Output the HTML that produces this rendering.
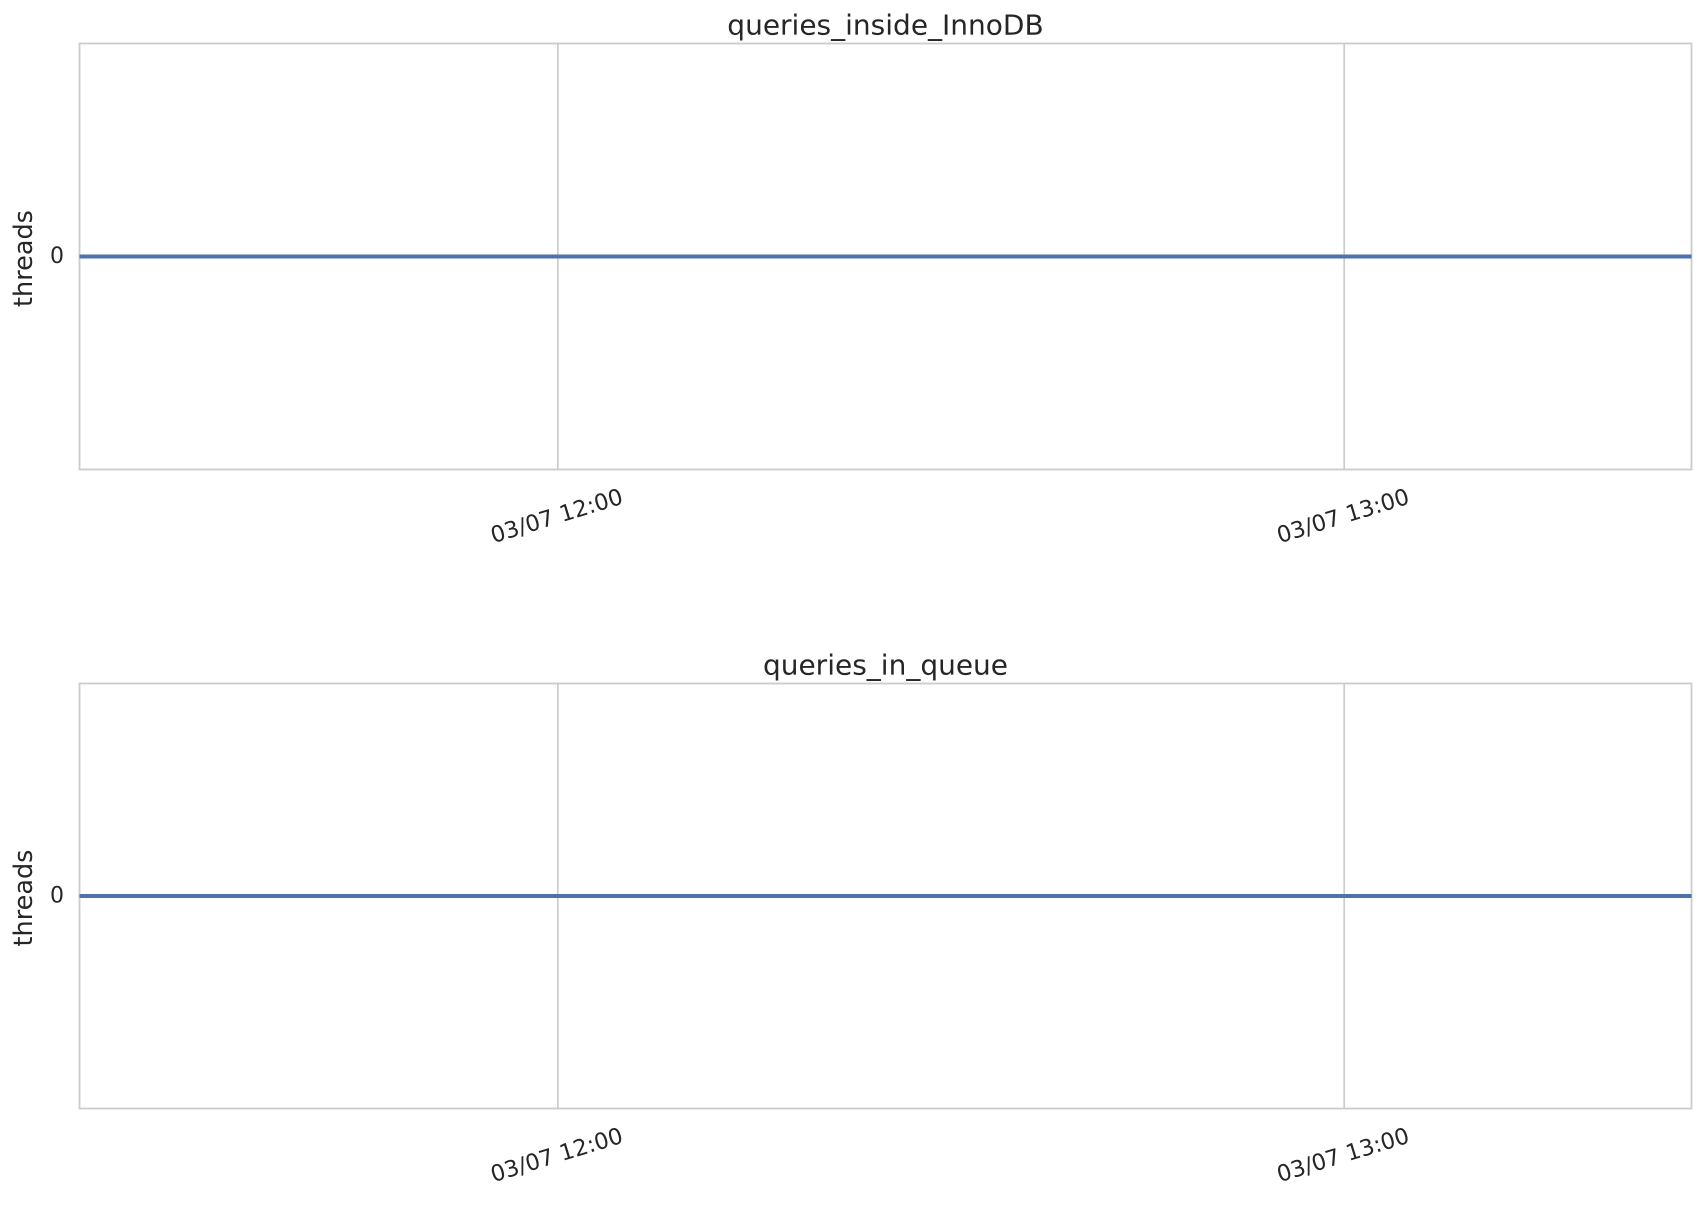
<!DOCTYPE html>
<html><head><meta charset="utf-8"><style>
html,body{margin:0;padding:0;background:#fff;}
svg{display:block;font-family:"DejaVu Sans","Liberation Sans",sans-serif;}
</style></head><body>
<svg id="chart" width="1704" height="1209" viewBox="0 0 1704 1209"></svg>
<script>
// data (minutes since 11:00 on 03/07)
const times = [23.5, 30, 40, 50, 60, 70, 80, 90, 100, 110, 120, 130, 140, 146.5];
const insideValues = [0,0,0,0,0,0,0,0,0,0,0,0,0,0];
const queueValues = [0,0,0,0,0,0,0,0,0,0,0,0,0,0];
const xTickValues = [60, 120];
const xTickLabels = ["03/07 12:00", "03/07 13:00"];
const yTickValues = [0];
const yTickLabels = ["0"];
const panelTitles = ["queries_inside_InnoDB", "queries_in_queue"];

const NS = "http://www.w3.org/2000/svg";
const svg = document.getElementById("chart");
function mk(tag, attrs, parent){const e=document.createElementNS(NS,tag);for(const k in attrs)e.setAttribute(k,attrs[k]);(parent||svg).appendChild(e);return e;}

const L=79.5, R=1691.5, xMin=23.5, xMax=146.5;
const xs = v => L + (v - xMin) / (xMax - xMin) * (R - L);
const panels = [{top:43.5,bottom:469.5,vals:insideValues,name:"inside"},{top:683.5,bottom:1108.5,vals:queueValues,name:"queue"}];

panels.forEach((p,i)=>{
  const g = mk("g",{});
  
  
  const mid=(p.top+p.bottom)/2, half=(p.bottom-p.top)/2;
  const ys = v => mid - v * half;
  xTickValues.forEach((t,j)=>{
    const gl = mk("line",{x1:xs(t),x2:xs(t),y1:p.top,y2:p.bottom,stroke:"#cccccc","stroke-width":1.7},g);
    
    
    const cx=xs(t)-1, cy=p.bottom+47;
    const tl = mk("text",{x:cx,y:cy,"text-anchor":"middle","dominant-baseline":"central","font-size":"22.5",fill:"#262626",transform:`rotate(-17 ${cx} ${cy})`},g);
    tl.textContent = xTickLabels[j];
    
    
  });
  const fr = mk("rect",{x:L,y:p.top,width:R-L,height:p.bottom-p.top,fill:"none",stroke:"#cccccc","stroke-width":1.8},g);
  
  
  yTickValues.forEach((t,j)=>{
    const yl = mk("text",{x:64,y:ys(t),"text-anchor":"end","dominant-baseline":"central","font-size":"22",fill:"#262626"},g);
    yl.textContent = yTickLabels[j];
    
    
  });
  const d = times.map((t,k)=>(k?"L":"M")+xs(t)+","+ys(p.vals[k])).join(" ");
  const ln = mk("path",{d:d,fill:"none",stroke:"#4c72b0","stroke-width":4},g);
  
  
  const yt = mk("text",{x:24,y:mid+2,"text-anchor":"middle","dominant-baseline":"central","font-size":"25.5",fill:"#262626",transform:`rotate(-90 24 ${mid+2})`},g);
  yt.textContent = "threads";
  
  
  const ti = mk("text",{x:(L+R)/2,y:p.top-9,"text-anchor":"middle","font-size":"28",fill:"#262626"},g);
  ti.textContent = panelTitles[i];
  
  
});
</script>
</body></html>
